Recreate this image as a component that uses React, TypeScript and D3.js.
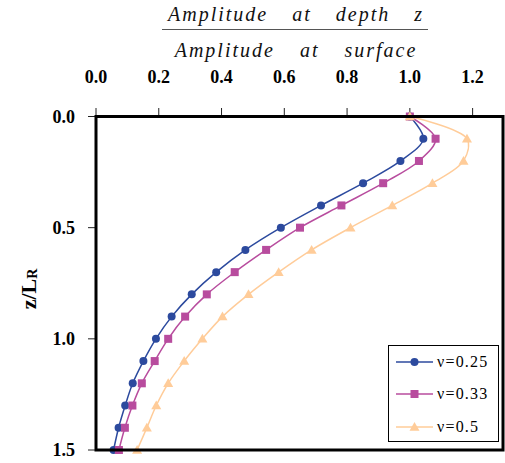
import React from "react";
import * as d3 from "d3";

const depths = [0, 0.1, 0.2, 0.3, 0.4, 0.5, 0.6, 0.7, 0.8, 0.9, 1.0, 1.1, 1.2, 1.3, 1.4, 1.5];
const nu025 = [1.0, 1.043, 0.970, 0.851, 0.717, 0.589, 0.476, 0.383, 0.305, 0.241, 0.191, 0.151, 0.117, 0.093, 0.072, 0.056];
const nu033 = [1.0, 1.082, 1.029, 0.915, 0.782, 0.650, 0.542, 0.442, 0.353, 0.284, 0.230, 0.187, 0.146, 0.116, 0.092, 0.073];
const nu050 = [1.0, 1.182, 1.171, 1.072, 0.944, 0.811, 0.687, 0.582, 0.486, 0.403, 0.339, 0.281, 0.230, 0.192, 0.162, 0.131];
const seriesNames = ["ν=0.25", "ν=0.33", "ν=0.5"];
const xTicks = [0, 0.2, 0.4, 0.6, 0.8, 1.0, 1.2];
const yTicks = [0, 0.5, 1.0, 1.5];

const colors = ["#2C4A9E", "#B84C9E", "#FFCC99"];
const shapes = ["circle", "square", "triangle"];

const left = 96, right = 503, top = 116.5, bottom = 450;

function Marker({ shape, x, y, color }: { shape: string; x: number; y: number; color: string }) {
  if (shape === "circle") return <circle cx={x} cy={y} r={4} fill={color} />;
  if (shape === "square") return <rect x={x - 4} y={y - 4} width={8} height={8} fill={color} />;
  const s = 5;
  return <path d={`M${x},${y - s}L${x + s},${y + s * 0.75}L${x - s},${y + s * 0.75}Z`} fill={color} />;
}

export default function App() {
  const x = d3.scaleLinear().domain([0, 1.3]).range([left, 504]);
  const y = d3.scaleLinear().domain([0, 1.5]).range([top, bottom]);
  const all = [nu025, nu033, nu050];
  const line = d3
    .line<[number, number]>()
    .x((d) => x(d[0]))
    .y((d) => y(d[1]))
    .curve(d3.curveCatmullRom.alpha(0.5));

  const serif = "'Liberation Serif', 'Times New Roman', serif";
  const legendRows = [362, 394, 427];

  return (
    <svg width={505} height={463} style={{ position: "absolute", left: 0, top: 0 }} fontFamily={serif}>
      <rect width={505} height={463} fill="#fff" />
      {/* title fraction */}
      <text x={296} y={21} textAnchor="middle" fontStyle="italic" fontSize={20} letterSpacing={2} wordSpacing={17} fill="#111">
        Amplitude at depth z
      </text>
      <line x1={162} x2={428} y1={29.5} y2={29.5} stroke="#555" strokeWidth={1.2} />
      <text x={296} y={57} textAnchor="middle" fontStyle="italic" fontSize={20} letterSpacing={2} wordSpacing={18} fill="#111">
        Amplitude at surface
      </text>

      {/* x ticks */}
      {xTicks.map((t) => (
        <g key={"x" + t}>
          <line x1={x(t)} x2={x(t)} y1={top} y2={108} stroke="#222" strokeWidth={1} />
          <text x={x(t)} y={83} textAnchor="middle" fontWeight="bold" fontSize={18} fill="#000">
            {t.toFixed(1)}
          </text>
        </g>
      ))}
      {/* y ticks */}
      {yTicks.map((t) => (
        <g key={"y" + t}>
          <line x1={88} x2={left} y1={y(t)} y2={y(t)} stroke="#222" strokeWidth={1} />
          <text x={75} y={y(t) + 6} textAnchor="end" fontWeight="bold" fontSize={18} fill="#000">
            {t.toFixed(1)}
          </text>
        </g>
      ))}
      <text transform="translate(36,289) rotate(-90)" textAnchor="middle" fontWeight="bold" fontSize={22} fill="#000">
        z/L<tspan fontSize={14} dy={1}>R</tspan>
      </text>

      {/* series */}
      {all.map((vals, i) => {
        const pts: [number, number][] = vals.map((v, j) => [v, depths[j]]);
        return (
          <g key={"s" + i}>
            <path d={line(pts) || ""} fill="none" stroke={colors[i]} strokeWidth={1.5} />
            {vals.map((v, j) => (
              <Marker key={j} shape={shapes[i]} x={x(v)} y={y(depths[j])} color={colors[i]} />
            ))}
          </g>
        );
      })}

      {/* frame */}
      <rect x={left} y={top} width={right - left} height={bottom - top} fill="none" stroke="#000" strokeWidth={3} />

      {/* legend */}
      <rect x={388.5} y={345.5} width={110} height={96} fill="#fff" stroke="#000" strokeWidth={1} />
      {seriesNames.map((n, i) => (
        <g key={"l" + i}>
          <line x1={396} x2={433} y1={legendRows[i]} y2={legendRows[i]} stroke={colors[i]} strokeWidth={1.5} />
          <Marker shape={shapes[i]} x={414.5} y={legendRows[i]} color={colors[i]} />
          <text x={437} y={legendRows[i] + 5} fontSize={16} letterSpacing={1.2} fill="#000">
            {n}
          </text>
        </g>
      ))}
    </svg>
  );
}
